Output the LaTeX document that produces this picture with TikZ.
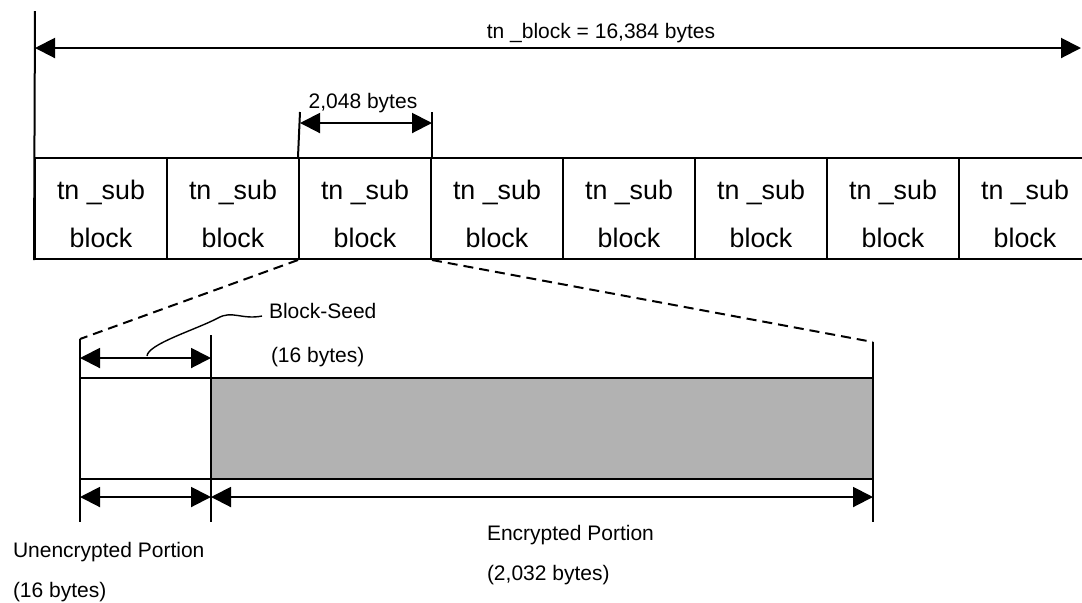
\documentclass[tikz,border=0pt]{standalone}
\usepackage{fontspec}
\setmainfont{Liberation Sans}
\usetikzlibrary{arrows.meta}

\begin{document}
\begin{tikzpicture}[x=0.5pt,y=-0.5pt,line width=1pt,
    dimline/.style={{Triangle[length=10pt,width=10pt]}-{Triangle[length=10pt,width=10pt]}},
    lbl/.style={font=\fontsize{10.5}{12}\selectfont,inner sep=0pt},
    cell/.style={draw,minimum width=66pt,minimum height=50.5pt,inner sep=0pt},
    celltext/.style={font=\fontsize{13.4}{16}\selectfont,inner sep=0pt,anchor=base}]

    % Fix the page size
    \useasboundingbox (0,0) rectangle (1082,602);

    % Row of the eight sub blocks (the last one runs off the page)
    \foreach \i in {0,...,7} {
        \node[cell] (c\i) at ({101+132*\i},208.5) {};
        \node[celltext] (s\i) at ({101+132*\i},199) {tn \_sub};
        \node[celltext] (b\i) at ({101+132*\i},247) {block};
    }

    % Whole block dimension
    \coordinate (top) at (35,11);
    \coordinate (TL) at (35,48);
    \coordinate (TR) at (1081,48);
    \draw (top) -- (c0.south west);
    \draw[dimline] (TL) -- (TR);
    \node[lbl,anchor=base] (total) at (601,38) {tn \_block = 16,384 bytes};

    % One sub block dimension
    \coordinate (SL) at (300,112);
    \coordinate (SR) at (432,112);
    \coordinate (AL) at (300,123);
    \coordinate (AR) at (432,123);
    \draw (SL) -- (c2.north west);
    \draw (SR) -- (c2.north east);
    \draw[dimline] (AL) -- (AR);
    \node[lbl,anchor=base] (sub) at (363,108) {2,048 bytes};

    % Expanded sub block
    \node[draw,minimum width=65.5pt,minimum height=50.5pt,inner sep=0pt] (seed) at (145.5,428.5) {};
    \node[draw,fill=black!30,minimum width=331pt,minimum height=50.5pt,inner sep=0pt] (enc) at (542,428.5) {};

    % Extension lines
    \coordinate (P1) at (80,339);
    \coordinate (P2) at (211,335);
    \coordinate (P3) at (873,342);
    \coordinate (Q1) at (80,522);
    \coordinate (Q2) at (211,522);
    \coordinate (Q3) at (873,522);
    \draw (P1) -- (Q1);
    \draw (P2) -- (Q2);
    \draw (P3) -- (Q3);

    % Zoom lines from the third sub block
    \draw[dash pattern=on 5pt off 3pt] (c2.south west) -- (P1);
    \draw[dash pattern=on 5pt off 3pt] (c2.south east) -- (P3);

    % Block-Seed dimension
    \coordinate (BL) at (80,358);
    \coordinate (BR) at (211,358);
    \draw[dimline] (BL) -- (BR);
    \coordinate (hook) at (147,356);
    \coordinate (tail) at (262,316);
    \draw[line width=0.7pt] (hook) .. controls (148,344) and (195,330) .. (218,318)
        .. controls (232,310) and (242,320) .. (tail);
    \node[lbl,anchor=base west] (bs) at (268,318) {Block-Seed};
    \node[lbl,anchor=base west] (bsz) at (270,362) {(16 bytes)};

    % Bottom dimensions
    \coordinate (UL) at (80,497);
    \coordinate (UR) at (211,497);
    \coordinate (ER) at (873,497);
    \draw[dimline] (UL) -- (UR);
    \draw[dimline] (UR) -- (ER);
    \node[lbl,anchor=base west] (un) at (12,557) {Unencrypted Portion};
    \node[lbl,anchor=base west] (unsz) at (12,597) {(16 bytes)};
    \node[lbl,anchor=base west] (en) at (486,540) {Encrypted Portion};
    \node[lbl,anchor=base west] (ensz) at (486,580) {(2,032 bytes)};

\end{tikzpicture}
\end{document}
